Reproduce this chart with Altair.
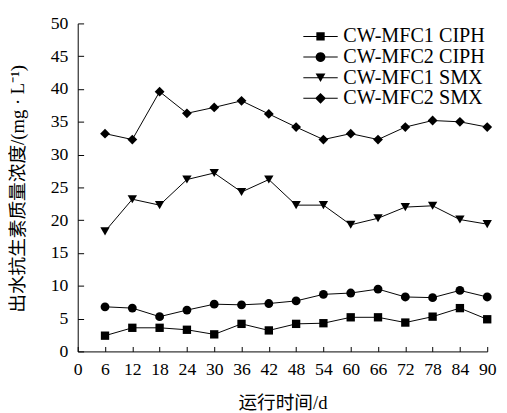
import math
import altair as alt
import pandas as pd

# ---- data ----
days = [6, 12, 18, 24, 30, 36, 42, 48, 54, 60, 66, 72, 78, 84, 90]
mfc1_ciph = [2.4, 3.6, 3.6, 3.3, 2.6, 4.2, 3.2, 4.2, 4.3, 5.2, 5.2, 4.4, 5.3, 6.6, 4.9]
mfc2_ciph = [6.8, 6.6, 5.3, 6.3, 7.2, 7.1, 7.3, 7.7, 8.7, 8.9, 9.5, 8.3, 8.2, 9.3, 8.3]
mfc1_smx = [18.3, 23.2, 22.3, 26.2, 27.2, 24.3, 26.2, 22.3, 22.3, 19.3, 20.3, 22.0, 22.2, 20.1, 19.4]
mfc2_smx = [33.2, 32.3, 39.6, 36.3, 37.2, 38.2, 36.2, 34.2, 32.3, 33.2, 32.3, 34.2, 35.2, 35.0, 34.2]
series = ["CW-MFC1 CIPH", "CW-MFC2 CIPH", "CW-MFC1 SMX", "CW-MFC2 SMX"]
x_ticks = [0, 6, 12, 18, 24, 30, 36, 42, 48, 54, 60, 66, 72, 78, 84, 90]
y_ticks = [0, 5, 10, 15, 20, 25, 30, 35, 40, 45, 50]
x_title = "运行时间/d"
y_title = "出水抗生素质量浓度/(mg · L⁻¹)"

values = [mfc1_ciph, mfc2_ciph, mfc1_smx, mfc2_smx]
rows = []
for name, vals in zip(series, values):
    for d, v in zip(days, vals):
        rows.append({"day": d, "value": v, "series": name})
df = pd.DataFrame(rows)
xt = pd.DataFrame({"t": x_ticks})
yt = pd.DataFrame({"t": y_ticks})

W, H = 417, 334
SERIF = "Liberation Serif"
MIXED = "Liberation Serif, Noto Sans CJK SC"

x_scale = alt.Scale(domain=[0, 90], nice=False, zero=True)
y_scale = alt.Scale(domain=[0, 50], nice=False, zero=True)

shapes = ["square", "circle", "triangle-down", "diamond"]
sizes = [72, 100, 105, 125]

# legend symbol paths (unit = 5 px at symbol size 100): thin filled bar + marker
def poly(pts):
    return "M" + "L".join(f"{x:.3f},{y:.3f}" for x, y in pts) + "Z"
bar = poly([(-3.5, -0.1), (3.5, -0.1), (3.5, 0.1), (-3.5, 0.1)])
sq = poly([(-0.85, -0.85), (0.85, -0.85), (0.85, 0.85), (-0.85, 0.85)])
circ = poly([(math.cos(2 * math.pi * k / 20), math.sin(2 * math.pi * k / 20)) for k in range(20)])
tri = poly([(0, 0.866), (-1.0, -0.866), (1.0, -0.866)])
dia = poly([(-1.1, 0), (0, -1.1), (1.1, 0), (0, 1.1)])
legend_paths = [bar + sq, bar + circ, bar + tri, bar + dia]

x_axis = alt.Axis(
    values=x_ticks, format="d", title=x_title, titleY=52, titleBaseline="middle",
)
y_axis = alt.Axis(
    values=y_ticks, format="d", title=y_title, titleX=-61, titleY=168,
    titleBaseline="middle", titleAlign="center", titleAngle=270,
)
# tick-only axes on the opposite sides, moved across the plot so that
# their (outward) ticks point into the plot from the bottom/left edges
x_tick_axis = alt.Axis(
    values=x_ticks, orient="top", offset=-H, ticks=True, tickSize=5,
    tickColor="black", tickWidth=1, labels=False, domain=False, title=None,
)
y_tick_axis = alt.Axis(
    values=y_ticks, orient="right", offset=-W, ticks=True, tickSize=6,
    tickColor="black", tickWidth=1, labels=False, domain=False, title=None,
)

base = alt.Chart(df)

lines = base.mark_line(color="black", strokeWidth=1).encode(
    x=alt.X("day:Q", scale=x_scale, axis=x_axis),
    y=alt.Y("value:Q", scale=y_scale, axis=y_axis),
    detail="series:N",
)

points = base.mark_point(filled=True, color="black", opacity=1).encode(
    x=alt.X("day:Q", scale=x_scale, axis=None),
    y=alt.Y("value:Q", scale=y_scale, axis=None),
    shape=alt.Shape("series:N", scale=alt.Scale(domain=series, range=shapes), legend=None),
    size=alt.Size("series:N", scale=alt.Scale(domain=series, range=sizes), legend=None),
)

legend_layer = base.transform_filter("false").mark_point(
    filled=True, color="black", opacity=1, size=100
).encode(
    x=alt.X("day:Q", scale=x_scale, axis=None),
    y=alt.Y("value:Q", scale=y_scale, axis=None),
    shape=alt.Shape(
        "series:N",
        scale=alt.Scale(domain=series, range=legend_paths),
        legend=alt.Legend(
            title=None, orient="none", legendX=237, legendY=3, padding=0,
            rowPadding=-1.5, symbolSize=100, symbolFillColor="black",
            symbolOpacity=1, symbolStrokeWidth=0,
            labelFont=SERIF, labelFontSize=20.5, labelColor="black",
            labelOffset=13, labelLimit=300,
        ),
    ),
)

y_tick_layer = alt.Chart(yt).mark_rule(opacity=0).encode(
    y=alt.Y("t:Q", scale=y_scale, axis=y_tick_axis),
)
x_tick_layer = alt.Chart(xt).mark_rule(opacity=0).encode(
    x=alt.X("t:Q", scale=x_scale, axis=x_tick_axis),
)

chart = alt.layer(lines, points, legend_layer, y_tick_layer, x_tick_layer).resolve_scale(
    shape="independent"
).resolve_axis(
    x="independent", y="independent"
).properties(
    width=W, height=H,
    autosize=alt.AutoSizeParams(type="none"),
    padding={"left": 71, "top": 12, "right": 12, "bottom": 59},
    background="white",
).configure_view(stroke=None).configure_axis(
    ticks=False, tickSize=0, grid=False,
    labelFont=SERIF, labelFontSize=18, labelColor="black", labelPadding=10,
    labelFlush=False, labelOverlap=False, domainColor="black", domainWidth=1,
    titleFont=MIXED, titleFontSize=19, titleFontWeight="normal", titleColor="black",
)

chart.save("out.html", embed_options={"renderer": "svg", "actions": False})
